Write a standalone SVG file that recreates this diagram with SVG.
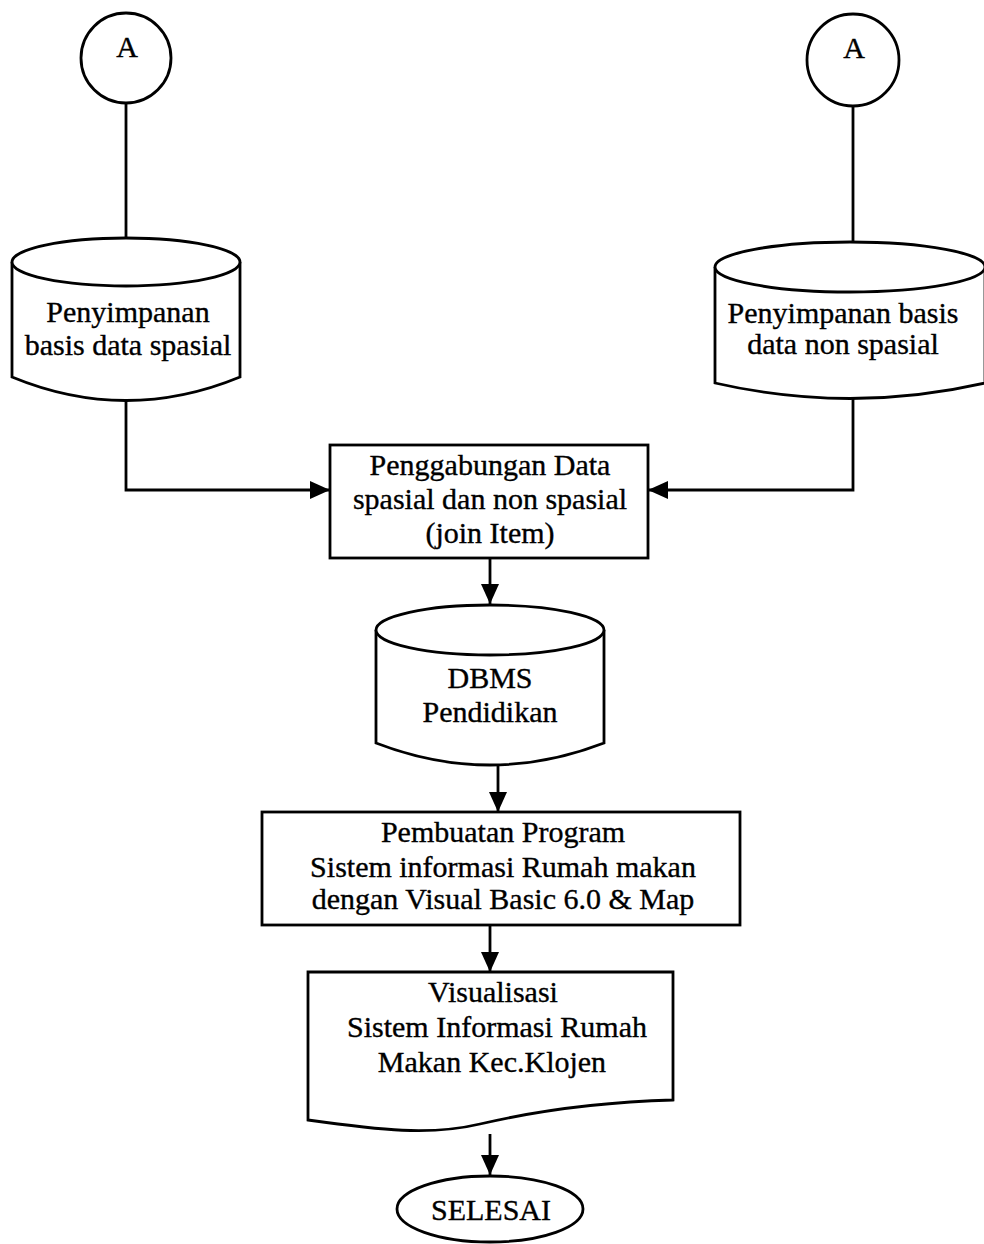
<svg xmlns="http://www.w3.org/2000/svg" width="984" height="1244" viewBox="0 0 984 1244">
  <defs>
    <marker id="arrow" viewBox="0 0 20 18" refX="20" refY="9" markerWidth="20" markerHeight="18" markerUnits="userSpaceOnUse" orient="auto">
      <path d="M0,0 L20,9 L0,18 Z" fill="#000"/>
    </marker>
    <style>
      .shape { fill: #fff; stroke: #000; stroke-width: 2.8; }
      .line { fill: none; stroke: #000; stroke-width: 2.8; }
      .label { font-family: "Liberation Serif", "Times New Roman", serif; font-size: 30px; fill: #000; stroke: #000; stroke-width: 0.35; text-anchor: middle; }
    </style>
  </defs>
  <rect width="984" height="1244" fill="#fff"/>

  <!-- connectors -->
  <g id="connectors">
    <line class="line" x1="126" y1="103" x2="126" y2="238"/>
    <line class="line" x1="853" y1="107" x2="853" y2="242"/>
    <polyline class="line" points="126,400 126,490 330,490" marker-end="url(#arrow)"/>
    <polyline class="line" points="853,398 853,490 648,490" marker-end="url(#arrow)"/>
    <line class="line" x1="490" y1="558" x2="490" y2="604" marker-end="url(#arrow)"/>
    <line class="line" x1="498" y1="765" x2="498" y2="812" marker-end="url(#arrow)"/>
    <line class="line" x1="490" y1="925" x2="490" y2="972" marker-end="url(#arrow)"/>
    <line class="line" x1="490" y1="1134" x2="490" y2="1175" marker-end="url(#arrow)"/>
  </g>

  <!-- connector A (left) -->
  <g id="connA-left">
    <circle class="shape" cx="126" cy="58" r="45"/>
    <text class="label" x="127" y="57">A</text>
  </g>

  <!-- connector A (right) -->
  <g id="connA-right">
    <circle class="shape" cx="853" cy="60" r="46"/>
    <text class="label" x="854" y="58">A</text>
  </g>

  <!-- spatial database store -->
  <g id="db-spasial">
    <path class="shape" d="M12,262 L12,377 Q126,424 240,377 L240,262"/>
    <ellipse class="shape" cx="126" cy="262" rx="114" ry="24"/>
    <text class="label" x="128" y="322">Penyimpanan</text>
    <text class="label" x="128" y="355">basis data spasial</text>
  </g>

  <!-- non-spatial database store -->
  <g id="db-nonspasial">
    <path class="shape" d="M715,267 L715,383 Q850,414 985,383 L985,267"/>
    <ellipse class="shape" cx="850" cy="267" rx="135" ry="25"/>
    <text class="label" x="843" y="323">Penyimpanan basis</text>
    <text class="label" x="843" y="354">data non spasial</text>
  </g>

  <!-- join process -->
  <g id="join">
    <rect class="shape" x="330" y="445" width="318" height="113"/>
    <text class="label" x="490" y="475">Penggabungan Data</text>
    <text class="label" x="490" y="509">spasial dan non spasial</text>
    <text class="label" x="490" y="543">(join Item)</text>
  </g>

  <!-- DBMS store -->
  <g id="dbms">
    <path class="shape" d="M376,630 L376,743 Q490,787 604,743 L604,630"/>
    <ellipse class="shape" cx="490" cy="630" rx="114" ry="25"/>
    <text class="label" x="490" y="688">DBMS</text>
    <text class="label" x="490" y="722">Pendidikan</text>
  </g>

  <!-- program building process -->
  <g id="program">
    <rect class="shape" x="262" y="812" width="478" height="113"/>
    <text class="label" x="503" y="842">Pembuatan Program</text>
    <text class="label" x="503" y="877">Sistem informasi Rumah makan</text>
    <text class="label" x="503" y="909">dengan Visual Basic 6.0 &amp; Map</text>
  </g>

  <!-- visualisation document -->
  <g id="visualisasi">
    <path class="shape" d="M308,972 L673,972 L673,1100 C600,1102 540,1110 480,1124 C430,1136 380,1130 308,1120 Z"/>
    <text class="label" x="493" y="1002">Visualisasi</text>
    <text class="label" x="497" y="1037">Sistem Informasi Rumah</text>
    <text class="label" x="492" y="1072">Makan Kec.Klojen</text>
  </g>

  <!-- terminator -->
  <g id="selesai">
    <ellipse class="shape" cx="490" cy="1209" rx="93" ry="33"/>
    <text class="label" x="491" y="1220">SELESAI</text>
  </g>
</svg>
